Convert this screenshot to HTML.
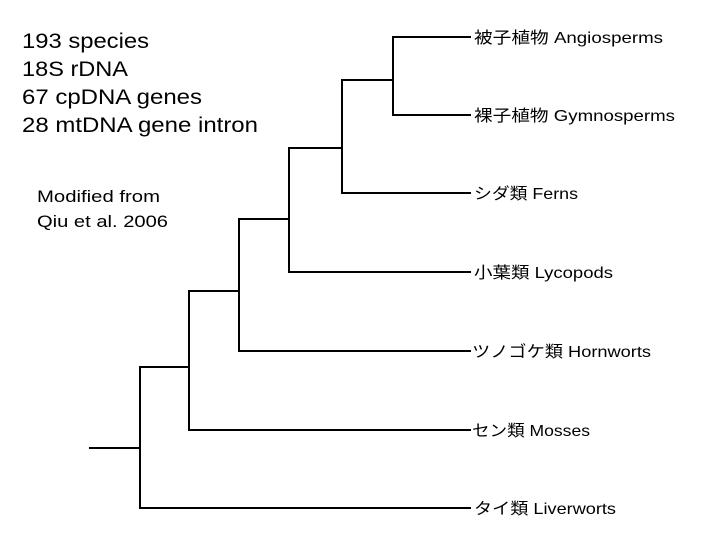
<!DOCTYPE html>
<html><head><meta charset="utf-8"><style>
html,body{margin:0;padding:0;background:#fff;}
svg{display:block;}
text{font-family:"Liberation Sans","Noto Sans CJK JP",sans-serif;fill:#000;}
</style></head><body>
<svg width="720" height="540" viewBox="0 0 720 540" xmlns="http://www.w3.org/2000/svg">
<g stroke="#000" stroke-width="2" fill="none" stroke-linecap="square">
<path d="M90 448 H140 M140 367 V508 M140 508 H470 M140 367 H189"/>
<path d="M189 291 V430 M189 430 H470 M189 291 H239"/>
<path d="M239 219 V351 M239 351 H470 M239 219 H289"/>
<path d="M289 148 V272 M289 272 H470 M289 148 H342"/>
<path d="M342 80 V193 M342 193 H470 M342 80 H393"/>
<path d="M393 37 V115 M393 37 H470 M393 115 H470"/>
</g>
<g font-size="21">
<text x="22" y="48" textLength="127" lengthAdjust="spacingAndGlyphs">193 species</text>
<text x="22" y="76" textLength="106" lengthAdjust="spacingAndGlyphs">18S rDNA</text>
<text x="22" y="104" textLength="180" lengthAdjust="spacingAndGlyphs">67 cpDNA genes</text>
<text x="22" y="132" textLength="236" lengthAdjust="spacingAndGlyphs">28 mtDNA gene intron</text>
</g>
<g font-size="17">
<text x="37" y="202" textLength="123" lengthAdjust="spacingAndGlyphs">Modified from</text>
<text x="37" y="227" textLength="131" lengthAdjust="spacingAndGlyphs">Qiu et al. 2006</text>
</g>
<g font-size="16">
<text x="474" y="43" textLength="189" lengthAdjust="spacingAndGlyphs">被子植物 Angiosperms</text>
<text x="474" y="121" textLength="201" lengthAdjust="spacingAndGlyphs">裸子植物 Gymnosperms</text>
<text x="474" y="199" textLength="104" lengthAdjust="spacingAndGlyphs">シダ類 Ferns</text>
<text x="474" y="278" textLength="139" lengthAdjust="spacingAndGlyphs">小葉類 Lycopods</text>
<text x="472" y="357" textLength="179" lengthAdjust="spacingAndGlyphs">ツノゴケ類 Hornworts</text>
<text x="472" y="436" textLength="118" lengthAdjust="spacingAndGlyphs">セン類 Mosses</text>
<text x="474" y="514" textLength="142" lengthAdjust="spacingAndGlyphs">タイ類 Liverworts</text>
</g>
</svg>
</body></html>
